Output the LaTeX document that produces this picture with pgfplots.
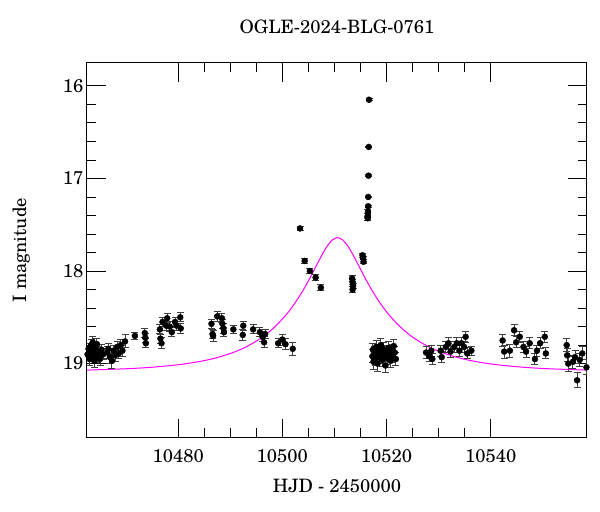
\documentclass[border=0pt]{standalone}
\usepackage{fontspec}
\setmainfont{TeX Gyre Schola}
\usepackage{pgfplots}
\pgfplotsset{compat=1.18}
\definecolor{modelmag}{RGB}{255,0,255}

% OGLE I-band photometry: HJD-2450000, mag, error
\pgfplotstableread{
t m e
10462.6 18.90 0.06
10462.8 18.84 0.06
10463.0 18.95 0.07
10463.1 18.88 0.06
10463.3 18.80 0.06
10463.5 18.92 0.06
10463.6 18.77 0.06
10463.7 18.86 0.07
10463.9 18.97 0.07
10464.1 18.83 0.06
10464.2 18.90 0.06
10464.4 18.79 0.06
10464.6 18.93 0.06
10464.8 18.87 0.06
10465.0 18.95 0.07
10465.3 18.85 0.06
10465.6 18.90 0.06
10466.4 18.88 0.06
10466.6 18.84 0.06
10466.9 18.93 0.07
10467.3 18.97 0.08
10467.6 18.86 0.06
10467.9 18.91 0.07
10468.3 18.82 0.06
10468.6 18.89 0.06
10469.0 18.80 0.06
10469.3 18.86 0.06
10469.8 18.76 0.07
10471.7 18.70 0.04
10473.6 18.67 0.05
10473.7 18.72 0.05
10473.8 18.78 0.05
10476.5 18.63 0.05
10476.6 18.73 0.05
10476.8 18.78 0.06
10477.0 18.55 0.05
10477.7 18.59 0.05
10477.9 18.51 0.05
10478.4 18.60 0.05
10478.8 18.66 0.05
10479.4 18.55 0.05
10479.7 18.59 0.05
10480.4 18.50 0.05
10480.5 18.62 0.05
10486.4 18.57 0.05
10486.6 18.68 0.05
10486.7 18.70 0.06
10487.5 18.49 0.05
10488.4 18.51 0.05
10488.5 18.57 0.05
10488.7 18.62 0.05
10488.8 18.66 0.05
10490.6 18.63 0.04
10492.4 18.69 0.06
10492.5 18.59 0.05
10494.4 18.63 0.05
10495.7 18.66 0.05
10496.2 18.71 0.05
10496.5 18.77 0.06
10496.7 18.68 0.05
10499.2 18.78 0.05
10500.0 18.74 0.06
10500.6 18.79 0.06
10502.0 18.84 0.07
10503.4 17.54 0.02
10504.3 17.89 0.03
10505.3 18.00 0.03
10506.4 18.07 0.03
10507.4 18.18 0.03
10513.4 18.08 0.03
10513.5 18.12 0.03
10513.6 18.16 0.03
10513.5 18.20 0.03
10515.4 17.83 0.02
10515.5 17.86 0.02
10515.6 17.90 0.02
10516.40 17.43 0.02
10516.42 17.40 0.02
10516.45 17.36 0.02
10516.48 17.30 0.01
10516.50 17.20 0.01
10516.55 16.97 0.01
10516.60 16.66 0.01
10516.65 16.15 0.01
10517.3 18.92 0.07
10517.4 18.85 0.07
10517.5 18.98 0.08
10517.7 18.88 0.07
10517.8 18.95 0.07
10518.0 18.82 0.07
10518.2 18.90 0.07
10518.3 19.00 0.08
10518.5 18.86 0.07
10518.7 18.93 0.07
10518.9 18.80 0.07
10519.0 18.89 0.07
10519.2 18.96 0.07
10519.4 18.84 0.07
10519.6 18.91 0.07
10519.8 19.02 0.08
10520.0 18.87 0.07
10520.2 18.94 0.07
10520.4 18.83 0.07
10520.6 18.90 0.07
10520.8 18.97 0.07
10521.0 18.86 0.07
10521.2 18.92 0.07
10521.4 18.81 0.07
10521.6 18.88 0.07
10521.8 18.95 0.07
10527.6 18.88 0.06
10528.2 18.92 0.06
10528.6 18.86 0.06
10528.8 18.95 0.06
10530.4 18.86 0.06
10530.6 18.93 0.06
10531.4 18.82 0.06
10531.9 18.78 0.06
10532.3 18.87 0.06
10533.0 18.82 0.06
10533.5 18.78 0.06
10534.0 18.86 0.06
10534.4 18.78 0.06
10534.9 18.82 0.06
10535.2 18.71 0.06
10535.5 18.89 0.06
10536.3 18.86 0.05
10542.3 18.75 0.07
10542.6 18.87 0.07
10543.7 18.86 0.07
10544.5 18.64 0.06
10544.9 18.77 0.06
10545.6 18.71 0.06
10546.3 18.82 0.06
10546.8 18.87 0.06
10547.5 18.78 0.06
10548.5 18.95 0.06
10548.9 18.86 0.06
10549.5 18.78 0.06
10550.4 18.71 0.06
10550.6 18.89 0.06
10554.6 18.80 0.07
10554.7 18.91 0.07
10554.9 19.00 0.08
10555.8 18.98 0.07
10556.2 18.93 0.07
10556.6 19.18 0.08
10557.1 18.96 0.07
10557.6 18.89 0.07
10558.4 19.04 0.08
}\photometry

% model curve
\pgfplotstableread{
t m
10462.5 19.070
10470.6 19.054
10475.6 19.036
10480.6 19.008
10484.6 18.972
10487.6 18.933
10490.6 18.879
10492.6 18.831
10494.6 18.771
10496.6 18.696
10498.6 18.601
10500.6 18.481
10501.6 18.410
10502.6 18.331
10503.6 18.244
10504.6 18.148
10505.6 18.044
10506.6 17.935
10507.6 17.828
10508.6 17.732
10509.6 17.664
10510.6 17.639
10511.6 17.664
10512.6 17.732
10513.6 17.828
10514.6 17.935
10515.6 18.044
10516.6 18.148
10517.6 18.244
10518.6 18.331
10519.6 18.410
10520.6 18.481
10522.6 18.601
10524.6 18.696
10526.6 18.771
10528.6 18.831
10530.6 18.879
10533.6 18.933
10536.6 18.972
10540.6 19.008
10545.6 19.036
10550.6 19.054
10558.6 19.070
}\model

\begin{document}
\begin{tikzpicture}
\path[use as bounding box] (-87bp,-74.3bp) rectangle (513bp,437.7bp);
\begin{axis}[
  at={(0,0)}, anchor=south west,
  scale only axis, width=500bp, height=375bp,
  xmin=10462.5, xmax=10558.5,
  ymin=15.75, ymax=19.8, y dir=reverse,
  xtick={10480,10500,10520,10540},
  ytick={16,17,18,19},
  scaled x ticks=false,
  minor x tick num=3, minor y tick num=4,
  tick align=inside,
  major tick length=19bp, minor tick length=9.5bp,
  axis line style={line width=1bp},
  every tick/.style={black, line width=0.8bp},
  /pgf/number format/assume math mode=true,
  xticklabel style={/pgf/number format/1000 sep={}, anchor=base, yshift=-25bp},
  tick label style={font=\fontsize{18.5}{21}\selectfont},
  label style={font=\fontsize{18.5}{21}\selectfont},
  title style={font=\fontsize{18.5}{21}\selectfont,
    at={(axis description cs:0.5,1)}, anchor=base, yshift=23.4bp},
  xlabel style={at={(axis description cs:0.5,0)}, anchor=base, yshift=-55bp},
  ylabel style={at={(axis description cs:-0.122,0.5)}, anchor=base},
  title={OGLE-2024-BLG-0761},
  xlabel={HJD - 2450000},
  ylabel={I magnitude},
]
\addplot[modelmag, line width=1bp, smooth] table[x=t, y=m] {\model};
\addplot[only marks, mark=*, mark size=3bp, black,
  error bars/.cd, y dir=both, y explicit,
  error bar style={black!75, line width=1bp},
  error mark options={rotate=90, mark size=3.5bp, black!75, line width=1bp}]
  table[x=t, y=m, y error=e] {\photometry};
\end{axis}
\end{tikzpicture}
\end{document}
